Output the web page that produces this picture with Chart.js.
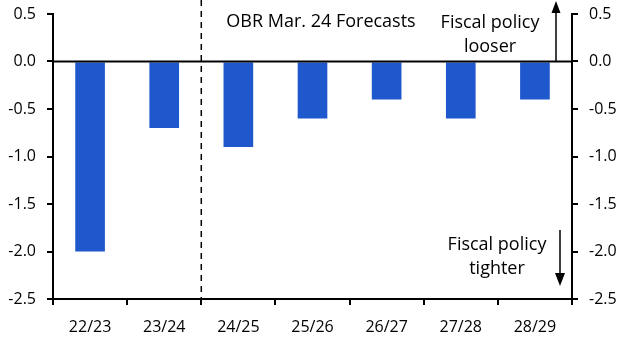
<!DOCTYPE html>
<html><head><meta charset="utf-8">
<script src="https://cdn.jsdelivr.net/npm/chart.js@4.4.1/dist/chart.umd.min.js"></script>
<style>html,body{margin:0;padding:0;background:#fff;}#wrap{width:629px;height:355px;}</style>
</head><body><div id="wrap"><canvas id="c" width="629" height="355"></canvas></div>
<script>
const categories = ["22/23","23/24","24/25","25/26","26/27","27/28","28/29"];
const values = [-2.0,-0.7,-0.9,-0.6,-0.4,-0.6,-0.4];
const yMin = -2.5, yMax = 0.5, yStep = 0.5;
const forecastStartIndex = 2;

const FONT = "'Open Sans', sans-serif";
const annot = {
  id: 'annot',
  afterDatasetsDraw(chart) {
    const {ctx, chartArea: a, scales} = chart;
    const x = scales.x, y = scales.y;
    ctx.save();
    ctx.strokeStyle = '#000'; ctx.lineWidth = 2;
    const y0 = y.getPixelForValue(0);
    ctx.beginPath(); ctx.moveTo(a.left, y0); ctx.lineTo(a.right, y0); ctx.stroke();
    const xd = (x.getPixelForValue(forecastStartIndex - 1) + x.getPixelForValue(forecastStartIndex)) / 2;
    ctx.lineWidth = 1.5; ctx.setLineDash([6,5]);
    ctx.beginPath(); ctx.moveTo(xd, 0); ctx.lineTo(xd, a.bottom); ctx.stroke();
    ctx.setLineDash([]);
    ctx.fillStyle = '#000'; ctx.font = "18px " + FONT; ctx.textBaseline = 'middle';
    ctx.textAlign = 'left';
    ctx.fillText('OBR Mar. 24 Forecasts', xd + 25, 22);
    ctx.textAlign = 'center';
    ctx.fillText('Fiscal policy', 490, 23);
    ctx.fillText('looser', 490, 47);
    ctx.fillText('Fiscal policy', 497, 245);
    ctx.fillText('tighter', 497, 269);
    ctx.lineWidth = 1.5;
    const ax1 = 556;
    ctx.beginPath(); ctx.moveTo(ax1, y0); ctx.lineTo(ax1, 10); ctx.stroke();
    ctx.beginPath(); ctx.moveTo(ax1, 1); ctx.lineTo(ax1-4.5, 13); ctx.lineTo(ax1+4.5, 13); ctx.closePath(); ctx.fill();
    const ax2 = 560;
    ctx.beginPath(); ctx.moveTo(ax2, 230); ctx.lineTo(ax2, 276); ctx.stroke();
    ctx.beginPath(); ctx.moveTo(ax2, 286); ctx.lineTo(ax2-5, 273); ctx.lineTo(ax2+5, 273); ctx.closePath(); ctx.fill();
    ctx.restore();
  }
};

const tickFmt = v => Number(v).toFixed(1);
const yAxis = (pos) => ({
  type: 'linear', position: pos, min: yMin, max: yMax,
  afterFit: s => { s.width = pos === 'left' ? 53 : 57; s.paddingTop = 0; s.paddingBottom = 0; },
  ticks: { stepSize: yStep, callback: tickFmt, color: '#000', font: {family: FONT, size: 16}, padding: 11 },
  grid: { drawOnChartArea: false, drawTicks: true, tickLength: 6, color: '#000', lineWidth: 2 },
  border: { display: true, color: '#000', width: 2 }
});

new Chart(document.getElementById('c'), {
  type: 'bar',
  data: { labels: categories, datasets: [{ data: values, backgroundColor: '#1f57cc', barPercentage: 0.4, categoryPercentage: 1.0 }] },
  options: {
    responsive: false, animation: false,
    layout: { padding: { top: 14, left: 0, right: 0, bottom: 0 } },
    plugins: { legend: { display: false }, tooltip: { enabled: false } },
    scales: {
      x: {
        afterFit: s => { s.height = 56; },
        ticks: { color: '#000', font: {family: FONT, size: 16}, padding: 13 },
        grid: { drawOnChartArea: false, drawTicks: true, tickLength: 6, color: '#000', lineWidth: 2, offset: true },
        border: { display: true, color: '#000', width: 2 }
      },
      y: yAxis('left'),
      y2: yAxis('right')
    }
  },
  plugins: [annot]
});
</script>
</body></html>
